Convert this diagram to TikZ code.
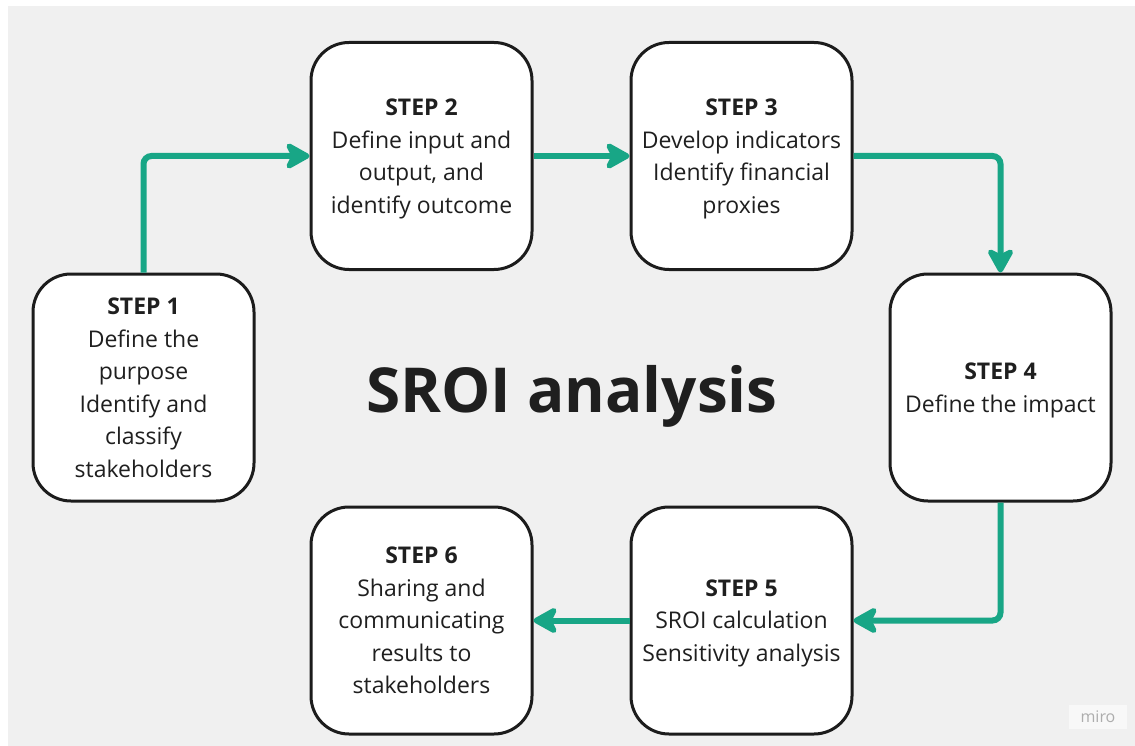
\documentclass[tikz,border=0pt]{standalone}
\usepackage{fontspec}
\setmainfont{Open Sans}
\usetikzlibrary{arrows.meta}
\definecolor{sroigreen}{RGB}{24,166,134}
\definecolor{boxline}{RGB}{28,28,28}
\definecolor{canvas}{RGB}{240,240,240}
\begin{document}
\begin{tikzpicture}[x=1pt, y=-1pt,
    stepbox/.style={draw=boxline, line width=3pt, fill=white, rounded corners=38pt,
      minimum width=221pt, minimum height=227pt, inner sep=0pt, text depth=-3pt, align=center,
      text=black!88, font=\fontsize{23}{32.5}\selectfont},
    flow/.style={draw=sroigreen, line width=6pt, rounded corners=8pt,
      -{Stealth[length=29pt, width=32pt, inset=8pt, round]}}]

    % Canvas
    \useasboundingbox (0,0) rectangle (1135,746);
    \fill[white] (0,0) rectangle (1135,746);
    \fill[canvas] (8,6) rectangle (1135,746);

    % Steps
    \node[stepbox] (s1) at (143.5,387.5) {\textbf{STEP 1}\\Define the\\purpose\\Identify and\\classify\\stakeholders};
    \node[stepbox] (s2) at (421.5,156) {\textbf{STEP 2}\\Define input and\\output, and\\identify outcome};
    \node[stepbox] (s3) at (741.5,156) {\textbf{STEP 3}\\Develop indicators\\Identify financial\\proxies};
    \node[stepbox] (s4) at (1000.5,387.5) {\textbf{STEP 4}\\Define the impact};
    \node[stepbox] (s5) at (741.5,620.5) {\textbf{STEP 5}\\SROI calculation\\Sensitivity analysis};
    \node[stepbox] (s6) at (421.5,620.5) {\textbf{STEP 6}\\Sharing and\\communicating\\results to\\stakeholders};

    % Title
    \node[font=\fontsize{62}{70}\selectfont\bfseries, text=black!88] (title) at (572,396) {SROI analysis};

    % Flow between steps
    \draw[flow] (s1.north) |- (s2.west);
    \draw[flow] (s2.east) -- (s3.west);
    \draw[flow] (s3.east) -| (s4.north);
    \draw[flow] (s4.south) |- (s5.east);
    \draw[flow] (s5.west) -- (s6.east);

    % Watermark
    \node[fill=white!50!canvas, text=black!32, font=\fontsize{16}{18}\selectfont,
      inner xsep=12pt, inner ysep=6pt] (miro) at (1098,717) {miro};
\end{tikzpicture}
\end{document}
